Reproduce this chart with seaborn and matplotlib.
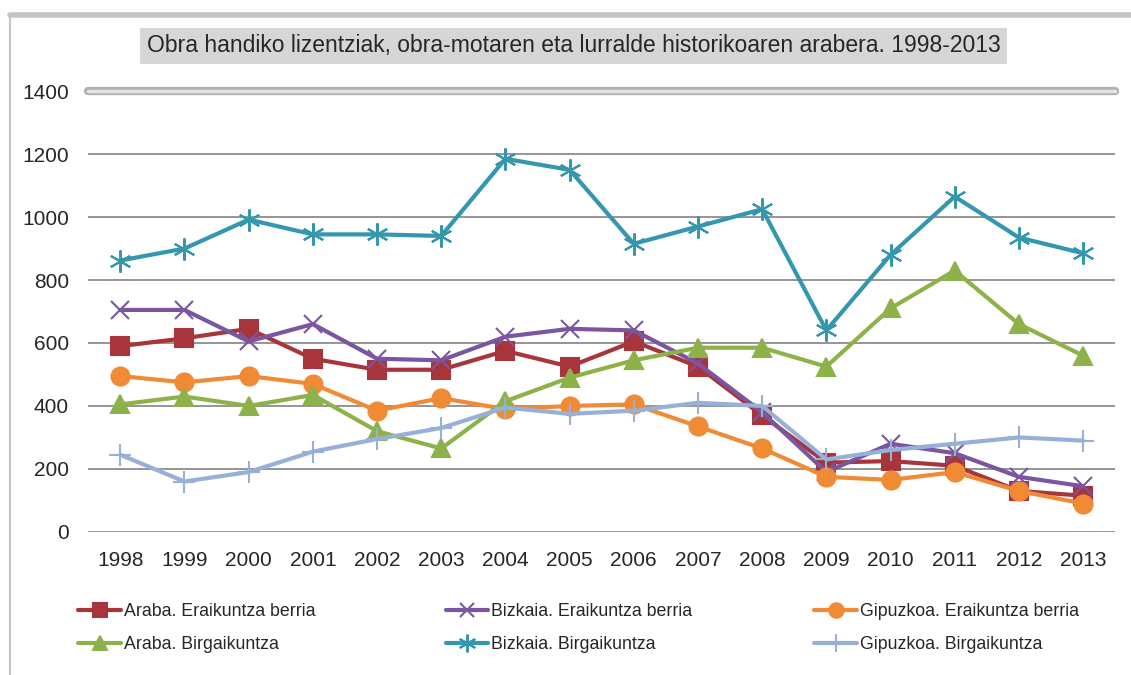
import numpy as np
import pandas as pd
import matplotlib
matplotlib.use('Agg')
import matplotlib.pyplot as plt
import seaborn as sns
from matplotlib.lines import Line2D
from matplotlib import font_manager

years = list(range(1998, 2014))

araba_eraik = [590, 615, 645, 550, 515, 515, 575, 525, 605, 525, 370, 220, 225, 210, 130, 115]
bizkaia_eraik = [705, 705, 605, 660, 550, 545, 620, 645, 640, 535, 380, 190, 280, 250, 175, 145]
gipuzkoa_eraik = [495, 475, 495, 470, 385, 425, 390, 400, 405, 335, 265, 175, 165, 190, 130, 90]
araba_birg = [405, 430, 400, 435, 320, 265, 415, 490, 545, 585, 585, 525, 710, 830, 660, 560]
bizkaia_birg = [862, 900, 992, 945, 945, 940, 1185, 1150, 915, 970, 1025, 640, 880, 1065, 935, 885]
gipuzkoa_birg = [245, 160, 190, 255, 295, 330, 395, 375, 385, 410, 400, 230, 260, 280, 300, 290]

series_names = ["Araba. Eraikuntza berria", "Bizkaia. Eraikuntza berria", "Gipuzkoa. Eraikuntza berria",
                "Araba. Birgaikuntza", "Bizkaia. Birgaikuntza", "Gipuzkoa. Birgaikuntza"]
series_vals = [araba_eraik, bizkaia_eraik, gipuzkoa_eraik, araba_birg, bizkaia_birg, gipuzkoa_birg]

# style per series: colour, marker, marker size
styles = {
    "Araba. Eraikuntza berria": ('#A8353C', 's', 13),
    "Bizkaia. Eraikuntza berria": ('#7A56A0', 'x', 13),
    "Gipuzkoa. Eraikuntza berria": ('#F08A35', 'o', 13),
    "Araba. Birgaikuntza": ('#8DB24A', '^', 13),
    "Bizkaia. Birgaikuntza": ('#3497AE', (6, 2, 0), 16),
    "Gipuzkoa. Birgaikuntza": ('#96B0D8', '+', 16),
}

df = pd.DataFrame({'year': years})
for n, v in zip(series_names, series_vals):
    df[n] = v
long = df.melt(id_vars='year', var_name='serie', value_name='value')

sns.set_style('white')
plt.rcParams['font.family'] = ['Liberation Sans', 'DejaVu Sans']
installed = {f.name for f in font_manager.fontManager.ttflist}
legend_family = 'Liberation Sans Narrow' if 'Liberation Sans Narrow' in installed else 'Liberation Sans'
legend_size = 15 if legend_family == 'Liberation Sans Narrow' else 12.8

fig = plt.figure(figsize=(11.31, 6.75), dpi=100)
ax = fig.add_axes([0.078, 0.212, 0.908, 0.653])

for n in series_names:
    c, m, ms = styles[n]
    sub = long[long['serie'] == n]
    sns.lineplot(data=sub, x='year', y='value', ax=ax, color=c, linewidth=3,
                 marker=m, markersize=ms, markeredgecolor=c, markeredgewidth=1.5,
                 zorder=3, legend=False)

ax.set_xlim(1997.5, 2013.5)
ax.set_ylim(0, 1400)
ax.set_xticks(years)
ax.set_xticklabels([str(y) for y in years], fontsize=15)
ax.set_yticks(range(0, 1401, 200))
ax.set_yticklabels([str(v) for v in range(0, 1401, 200)], fontsize=15)
ax.tick_params(length=0, pad=14)
ax.set_xlabel('')
ax.set_ylabel('')
for s in ax.spines.values():
    s.set_visible(False)
for v in range(0, 1400, 200):
    ax.axhline(v, color='#8c8c8c', lw=1.3, zorder=1)
# top gridline drawn as a thick grey bar
ax.axhline(1400, color='#b0b0b0', lw=6, zorder=1, clip_on=False)
ax.axhline(1400, color='#e4e4e4', lw=2.5, zorder=1, clip_on=False)

# title with grey box
fig.text(0.507, 0.932, "Obra handiko lizentziak, obra-motaren eta lurralde historikoaren arabera. 1998-2013",
         ha='center', va='center', fontsize=16.5,
         bbox=dict(boxstyle='square,pad=0.3', facecolor='#d6d6d6', edgecolor='none'))

# frame lines
fig.add_artist(Line2D([0.009, 1.0], [0.978, 0.978], color='#c4c4c4', lw=4))
fig.add_artist(Line2D([0.009, 0.009], [0.0, 0.978], color='#c4c4c4', lw=1.5))

# legend: three columns, two rows
col_x = [0.055, 0.38, 0.706]
for col in range(3):
    handles = []
    for i in (col, col + 3):
        n = series_names[i]
        c, m, ms = styles[n]
        handles.append(Line2D([0], [0], color=c, lw=3, marker=m, markersize=ms * 0.8,
                              markeredgecolor=c, markeredgewidth=1.5, label=n))
    fig.legend(handles=handles, loc='upper left', bbox_to_anchor=(col_x[col], 0.13),
               frameon=False, handlelength=2.4, handletextpad=0.15, labelspacing=0.9,
               prop={'family': legend_family, 'size': legend_size})

fig.savefig('out.png', dpi=100, facecolor='white')
